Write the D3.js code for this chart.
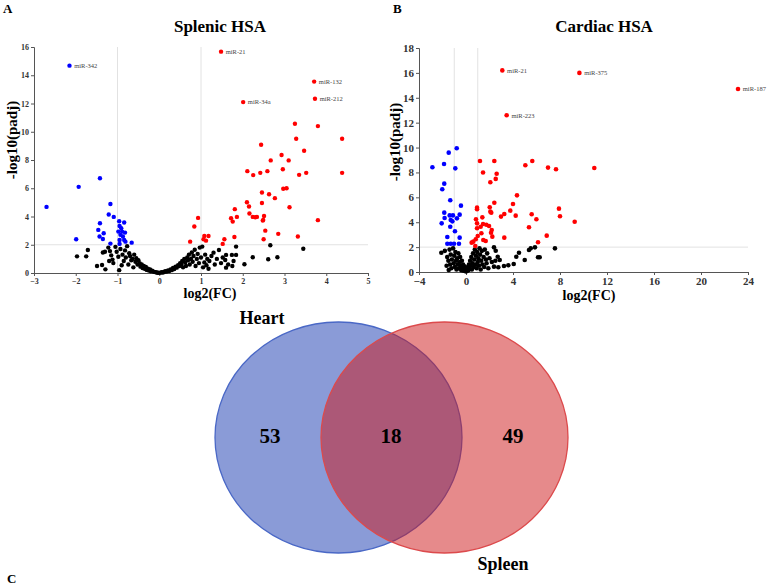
<!DOCTYPE html>
<html><head><meta charset="utf-8">
<script src="https://cdn.jsdelivr.net/npm/d3@7/dist/d3.min.js"></script>
<style>
html,body{margin:0;padding:0;background:#fff;}
svg{display:block;font-family:"Liberation Serif","Times New Roman",serif;}
</style></head>
<body><svg id="c" width="767" height="586"></svg>
<script>
// ---------- DATA ----------
// Panel A: Splenic HSA  [log2FC, -log10(padj)]
const splenicXTicks = [-3,-2,-1,0,1,2,3,4,5];
const splenicYTicks = [0,2,4,6,8,10,12,14,16];
const splenicLabeled = [
  {name:"miR-342", x:-2.15, y:14.68, grp:"down"},
  {name:"miR-21",  x:1.48,  y:15.67, grp:"up"},
  {name:"miR-132", x:3.71,  y:13.55, grp:"up"},
  {name:"miR-212", x:3.73,  y:12.34, grp:"up"},
  {name:"miR-34a", x:2.01,  y:12.1,  grp:"up"}
];
const splenicUp = [
  [3.25,10.57],[3.8,10.4],[3.28,9.5],[4.38,9.5],[2.44,9.08],[2.93,8.35],[3.47,8.65],[2.67,7.97],[3.10,7.97],
  [2.11,7.21],[2.25,6.93],[2.42,7.09],[2.59,7.21],[2.96,7.35],[3.35,6.95],[3.52,7.09],[4.38,7.09],
  [2.46,5.7],[2.63,5.58],[2.77,5.3],[2.97,5.96],[3.05,6.0],[2.10,5.01],[2.15,4.71],[2.46,4.96],[1.81,4.52],
  [3.12,4.66],[2.16,4.21],[2.24,3.97],[2.30,3.95],[2.34,3.97],[2.51,4.04],[2.49,3.76],[2.48,3.71],[1.86,3.97],
  [1.72,3.88],[1.76,3.64],[3.80,3.74],[0.93,3.90],[0.84,3.29],[2.54,3.0],[2.85,2.77],[3.32,2.58],[2.50,2.39],
  [1.08,2.62],[1.18,2.62],[1.06,2.39],[1.12,2.29],[1.56,2.39],[1.52,2.06],[1.80,2.55],[0.74,2.22]
];
const splenicDown = [
  [-2.70,4.68],[-1.93,6.1],[-1.42,6.71],[-1.99,2.39],[-1.17,4.89],[-1.21,4.14],[-1.09,3.97],[-1.42,3.52],
  [-1.46,3.05],[-1.33,2.81],[-1.43,2.58],[-1.35,2.41],[-1.17,2.08],[-0.96,3.66],[-0.84,3.57],[-0.95,3.33],
  [-0.91,3.17],[-0.98,2.93],[-0.89,2.93],[-0.82,2.86],[-0.93,2.70],[-0.87,2.58],[-0.95,2.34],[-0.84,2.34],
  [-0.81,2.22],[-0.95,2.06],[-0.66,2.15]
];
const splenicNS = [
  [-1.97,1.18],[-1.75,1.18],[-1.71,1.63],[-1.49,0.5],[-1.37,0.57],[-1.29,0.26],[-1.35,1.45],[-1.3,1.5],
  [-1.22,1.8],[-1.18,1.55],[-1.15,1.25],[-1.12,0.95],[-1.1,0.7],[-1.2,0.85],[-1.05,1.85],[-1.02,1.5],
  [-0.98,1.15],[-0.96,0.2],[-0.93,1.7],[-0.9,0.55],[-0.88,1.3],[-0.85,0.85],[-0.82,1.6],[-0.8,1.1],
  [-0.77,1.9],[-0.74,0.6],[-0.72,1.4],[-0.7,1.2],[-0.67,0.9],[-0.64,1.0],[-0.62,0.4],[-0.6,1.3],
  [-0.57,0.8],[-0.55,1.05],[-0.52,0.6],[-0.5,0.9],[-0.47,0.7],[-0.45,0.45],[-0.42,0.6],[-0.4,0.35],
  [-0.37,0.5],[-0.35,0.3],[-0.32,0.42],[-0.3,0.22],[-0.27,0.3],[-0.25,0.18],[-0.22,0.25],[-0.2,0.12],
  [-0.17,0.16],[-0.14,0.1],[-0.12,0.08],[-0.09,0.06],[-0.06,0.04],[-0.03,0.02],[0,0.01],[0.03,0.03],
  [0.06,0.05],[0.09,0.04],[0.12,0.09],[0.15,0.12],[0.18,0.1],[0.21,0.18],[0.24,0.14],[0.27,0.25],
  [0.3,0.2],[0.33,0.35],[0.36,0.28],[0.39,0.45],[0.42,0.38],[0.45,0.55],[0.48,0.5],[0.5,0.7],
  [0.53,0.6],[0.55,0.85],[0.57,0.4],[0.6,1.0],[0.62,0.75],[0.64,0.5],[0.67,1.1],[0.69,0.9],
  [0.71,1.3],[0.73,0.6],[0.76,1.0],[0.78,1.45],[0.8,0.8],[0.82,1.2],[0.85,1.65],[0.87,0.5],
  [0.9,1.0],[0.92,1.35],[0.95,0.7],[0.97,1.8],[1.0,1.1],[1.03,1.87],[1.05,0.4],[1.08,0.75],
  [1.1,1.3],[1.13,0.55],[1.15,1.0],[1.18,0.3],[1.2,0.85],[1.25,1.2],[1.3,1.44],[1.33,0.6],
  [1.38,1.0],[1.43,1.63],[1.48,0.7],[1.52,1.1],[1.58,0.92],[1.6,1.28],[1.6,0.38],[1.65,0.6],
  [1.74,1.28],[1.75,0.5],[1.78,0.85],[1.84,1.87],[1.84,1.28],[2.04,0.62],[2.24,1.11],[2.61,0.97],
  [2.66,1.96],[2.83,1.11],[3.45,1.72]
];

// Panel B: Cardiac HSA
const cardiacXTicks = [-4,0,4,8,12,16,20,24];
const cardiacYTicks = [0,2,4,6,8,10,12,14,16,18];
const cardiacLabeled = [
  {name:"miR-21",  x:3.09,  y:16.2, grp:"up"},
  {name:"miR-223", x:3.46,  y:12.6, grp:"up"},
  {name:"miR-375", x:9.65,  y:16.0, grp:"up"},
  {name:"miR-187", x:23.15, y:14.7, grp:"up"}
];
const cardiacUp = [
  [1.19,8.92],[2.41,8.92],[1.45,7.99],[2.61,7.9],[2.53,7.48],[2.07,7.21],[5.05,8.58],[5.64,8.92],
  [6.98,8.39],[7.66,8.26],[4.34,6.16],[2.41,5.57],[4.0,5.47],[0.94,5.17],[0.94,5.04],[2.02,5.2],
  [2.07,4.85],[2.15,4.77],[3.77,4.93],[3.26,4.66],[2.98,4.45],[4.23,4.53],[5.59,4.64],[5.99,4.24],
  [7.91,5.09],[8.0,4.48],[9.25,4.04],[10.92,8.36],[0.85,4.24],[0.94,3.91],[1.39,4.39],[1.25,3.64],
  [1.45,3.86],[1.73,3.8],[1.96,3.7],[0.94,3.51],[2.19,3.38],[1.31,3.11],[2.13,3.16],[1.0,2.89],
  [0.83,2.63],[0.62,2.44],[0.48,2.36],[1.47,2.57],[1.68,2.49],[2.24,2.84],[3.26,2.76],[5.36,3.59],
  [6.87,2.92],[6.13,2.39],[0.79,2.09]
];
const cardiacDown = [
  [-0.79,9.94],[-1.47,9.59],[-2.86,8.42],[-1.87,8.68],[-0.91,8.33],[-1.85,7.1],[-2.02,6.65],[-1.34,5.76],
  [-0.43,5.33],[-1.85,4.77],[-1.82,4.34],[-2.07,3.91],[-1.39,4.55],[-1.11,4.55],[-1.30,4.18],[-1.16,4.07],
  [-0.77,4.31],[-0.54,4.61],[-1.34,3.64],[-0.94,3.27],[-1.59,2.81],[-0.54,2.76],[-1.59,2.27],[-1.30,2.27],
  [-1.02,2.27],[-0.60,2.27]
];
const cardiacNS = [
  [-2.1,1.55],[-1.47,0.16],[-1.6,1.2],[-1.5,0.9],[-1.4,1.8],[-1.35,0.6],[-1.3,1.4],[-1.25,0.3],
  [-1.2,1.0],[-1.1,1.9],[-1.05,0.7],[-1.0,1.3],[-0.95,0.4],[-0.9,1.6],[-0.85,0.9],[-0.8,0.2],
  [-0.75,1.1],[-0.7,0.6],[-0.65,1.5],[-0.6,0.3],[-0.55,0.8],[-0.5,1.2],[-0.45,0.5],[-0.4,0.15],
  [-0.35,0.9],[-0.3,0.35],[-0.25,0.6],[-0.2,0.1],[-0.15,0.45],[-0.1,0.2],[-0.05,0.3],[0,0.05],
  [0.05,0.25],[0.1,0.1],[0.15,0.4],[0.2,0.15],[0.25,0.6],[0.3,0.3],[0.35,0.9],[0.4,0.5],
  [0.45,1.2],[0.5,0.2],[0.55,0.7],[0.6,1.5],[0.65,0.4],[0.7,1.0],[0.75,1.8],[0.8,0.6],
  [0.85,1.3],[0.9,0.3],[0.95,1.6],[1.0,0.8],[1.05,1.1],[1.1,0.5],[1.15,1.9],[1.2,1.4],
  [1.25,0.2],[1.3,0.9],[1.35,1.7],[1.4,0.6],[1.5,1.2],[1.55,0.4],[1.6,1.8],[1.7,1.0],
  [1.75,0.7],[1.8,1.5],[1.9,0.3],[2.0,1.1],[2.2,0.8],[2.5,0.9],[-1.8,1.7],[-1.65,0.5],
  [2.38,1.98],[2.53,1.71],[2.7,1.23],[2.87,0.96],[2.38,0.43],[2.75,0.38],[3.23,0.48],[3.6,0.54],
  [4.06,0.64],[4.28,1.23],[4.51,1.55],[5.0,0.96],[5.36,1.77],[5.51,1.9],[5.87,1.98],[6.13,1.18],
  [6.27,1.18],[7.57,1.9]
];

// Panel C: Venn
const vennSets = ["Heart","Spleen"];
const vennCounts = {heartOnly:53, both:18, spleenOnly:49};

// ---------- DRAW ----------
const svg = d3.select("#c");
const colors = {up:"#ff0000", down:"#0000ff", ns:"#000000"};

function volcano(cfg){
  const g = svg.append("g");
  const x = d3.scaleLinear().domain(cfg.xDomain).range(cfg.xRange);
  const y = d3.scaleLinear().domain(cfg.yDomain).range(cfg.yRange);
  const rl = g.append("g").attr("stroke","#e2e2e2").attr("stroke-width",1);
  [-1,1].forEach(v=>rl.append("line").attr("x1",x(v)).attr("x2",x(v)).attr("y1",y(cfg.yDomain[0])).attr("y2",y(cfg.yDomain[1])));
  rl.append("line").attr("x1",x(cfg.xDomain[0])).attr("x2",x(cfg.xDomain[1])).attr("y1",y(2)).attr("y2",y(2));
  const ax = g.append("g").attr("transform",`translate(0,${cfg.yRange[0]})`)
    .call(d3.axisBottom(x).tickValues(cfg.xTicks).tickSize(3).tickPadding(cfg.tickPad).tickFormat(d3.format("d")));
  const ay = g.append("g").attr("transform",`translate(${cfg.xRange[0]},0)`)
    .call(d3.axisLeft(y).tickValues(cfg.yTicks).tickSize(3).tickPadding(cfg.tickPad).tickFormat(d3.format("d")));
  [ax,ay].forEach(a=>{
    a.selectAll("path,line").attr("stroke","#555").attr("stroke-width",1);
    a.selectAll("text").attr("font-family","Liberation Serif").attr("font-weight","bold")
      .attr("font-size",cfg.tickFont).attr("fill","#333");
  });
  const pts = g.append("g");
  const draw = (arr,col)=>pts.selectAll(null).data(arr).enter().append("circle")
    .attr("cx",d=>x(d[0])).attr("cy",d=>y(d[1])).attr("r",cfg.r).attr("fill",col);
  draw(cfg.ns,colors.ns); draw(cfg.down,colors.down); draw(cfg.up,colors.up);
  pts.selectAll(null).data(cfg.labeled).enter().append("circle")
    .attr("cx",d=>x(d.x)).attr("cy",d=>y(d.y)).attr("r",cfg.r).attr("fill",d=>colors[d.grp]);
  g.selectAll(null).data(cfg.labeled).enter().append("text")
    .attr("x",d=>x(d.x)+cfg.r+2.5).attr("y",d=>y(d.y)+2.3).text(d=>d.name)
    .attr("font-size",cfg.labFont).attr("fill","#444");
  g.append("text").attr("x",cfg.titleX).attr("y",32).attr("text-anchor","middle")
    .attr("font-weight","bold").attr("font-size",17).text(cfg.title);
  g.append("text").attr("x",cfg.xlabX).attr("y",cfg.xlabY).attr("text-anchor","middle")
    .attr("font-weight","bold").attr("font-size",cfg.labelFont).text("log2(FC)");
  g.append("text").attr("transform",`translate(${cfg.ylabX},${cfg.ylabY}) rotate(-90)`)
    .attr("text-anchor","middle").attr("font-weight","bold").attr("font-size",15).text("-log10(padj)");
  g.append("text").attr("x",cfg.letterX).attr("y",13).attr("font-weight","bold").attr("font-size",13).text(cfg.letter);
}

volcano({xDomain:[-3,5], xRange:[34,368], yDomain:[0,16], yRange:[273,47],
  xTicks:splenicXTicks, yTicks:splenicYTicks, tickFont:8, tickPad:2, r:2.2, labFont:6.5,
  ns:splenicNS, up:splenicUp, down:splenicDown, labeled:splenicLabeled,
  title:"Splenic HSA", titleX:220, xlabX:210, xlabY:298, labelFont:14, ylabX:17, ylabY:140, letter:"A", letterX:3});

volcano({xDomain:[-4,24], xRange:[419,748], yDomain:[0,18], yRange:[272,48],
  xTicks:cardiacXTicks, yTicks:cardiacYTicks, tickFont:11, tickPad:2, r:2.3, labFont:6.5,
  ns:cardiacNS, up:cardiacUp, down:cardiacDown, labeled:cardiacLabeled,
  title:"Cardiac HSA", titleX:604, xlabX:589, xlabY:300, labelFont:14, ylabX:400, ylabY:142, letter:"B", letterX:393});

// Venn
const vg = svg.append("g");
const ry = 115.5, rx = 123.5;
const cx = d3.scaleOrdinal().domain(vennSets).range([338.5, 444.5]);
const cy = 437.5;
vg.append("ellipse").attr("cx",cx("Heart")).attr("cy",cy).attr("rx",rx).attr("ry",ry)
  .attr("fill","#8a9bd7").attr("stroke","#4a68c6").attr("stroke-width",1.3);
vg.append("ellipse").attr("cx",cx("Spleen")).attr("cy",cy).attr("rx",rx).attr("ry",ry)
  .attr("fill","rgb(205,22,24)").attr("fill-opacity",0.5).attr("stroke","#dc4a4c").attr("stroke-width",1.3);
const nums = [
  {v:vennCounts.heartOnly, x:270},{v:vennCounts.both, x:391},{v:vennCounts.spleenOnly, x:513}
];
vg.selectAll(null).data(nums).enter().append("text").attr("x",d=>d.x).attr("y",443)
  .attr("text-anchor","middle").attr("font-weight","bold").attr("font-size",21).text(d=>d.v);
vg.append("text").attr("x",262).attr("y",324).attr("text-anchor","middle").attr("font-weight","bold")
  .attr("font-size",18).text(vennSets[0]);
vg.append("text").attr("x",503).attr("y",570).attr("text-anchor","middle").attr("font-weight","bold")
  .attr("font-size",18).text(vennSets[1]);
vg.append("text").attr("x",7).attr("y",583).attr("font-weight","bold").attr("font-size",13).text("C");
</script></body></html>
